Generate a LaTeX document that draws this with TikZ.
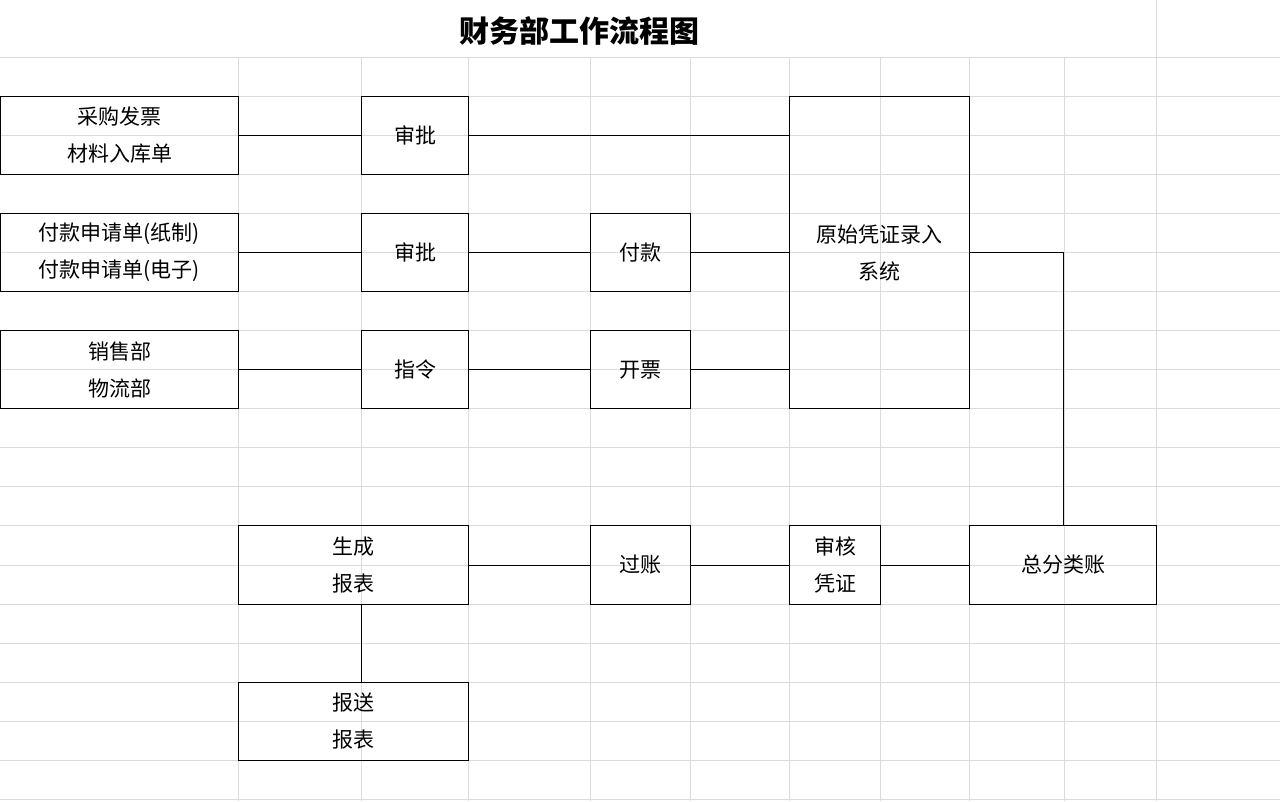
\documentclass[tikz,border=0pt]{standalone}
\usepackage{fontspec}
\setmainfont{Noto Sans CJK SC}
\begin{document}
\begin{tikzpicture}[x=1pt,y=-1pt]
\tikzstyle{box}=[draw, line width=1pt, anchor=north west, inner sep=0pt,
                 align=center, font=\fontsize{21}{37}\selectfont]
\tikzstyle{grd}=[draw=black!14, line width=0.8pt]
\useasboundingbox (0,0) rectangle (1280,801);
% grid
\foreach \x in {238,361,468,590,690,789,880,969,1064,1156}{\draw[grd] (\x,57) -- (\x,801);}
\draw[grd] (1156,0) -- (1156,57);
\foreach \y in {57,96,135,174,213,252,291,330,369,408,447,486,525,565,604,643,682,721,760,799}{\draw[grd] (0,\y) -- (1280,\y);}
\node[font=\fontsize{30}{34}\selectfont\bfseries] (ttl) at (579,31) {财务部工作流程图};
% boxes
\node[box, minimum width=238pt, minimum height=78pt] (src1) at (0,96) {采购发票\\材料入库单};
\node[box, minimum width=238pt, minimum height=78pt] (src2) at (0,213) {付款申请单(纸制)\\付款申请单(电子)};
\node[box, minimum width=238pt, minimum height=78pt] (src3) at (0,330) {销售部\\物流部};
\node[box, minimum width=107pt, minimum height=78pt] (apv1) at (361,96) {审批};
\node[box, minimum width=107pt, minimum height=78pt] (apv2) at (361,213) {审批};
\node[box, minimum width=107pt, minimum height=78pt] (ord) at (361,330) {指令};
\node[box, minimum width=100pt, minimum height=78pt] (pay) at (590,213) {付款};
\node[box, minimum width=100pt, minimum height=78pt] (inv) at (590,330) {开票};
\node[box, minimum width=180pt, minimum height=312pt] (sys) at (789,96) {原始凭证录入\\系统};
\node[box, minimum width=187pt, minimum height=79pt] (ldg) at (969,525) {总分类账};
\node[box, minimum width=91pt, minimum height=79pt] (chk) at (789,525) {审核\\凭证};
\node[box, minimum width=100pt, minimum height=79pt] (post) at (590,525) {过账};
\node[box, minimum width=230pt, minimum height=79pt] (gen) at (238,525) {生成\\报表};
\node[box, minimum width=230pt, minimum height=78pt] (send) at (238,682) {报送\\报表};
% connectors
\draw[line width=1pt] (src1) -- (apv1);
\draw[line width=1pt] (apv1) -- (apv1 -| sys.west);
\foreach \i/\j in {src2/apv2,apv2/pay,pay/sys,src3/ord,ord/inv}{\draw[line width=1pt] (\i) -- (\j);}
\draw[line width=1pt] (inv) -- (inv -| sys.west);
\draw[line width=1pt] (sys.east) -| (ldg.north);
\foreach \i/\j in {ldg/chk,chk/post,post/gen}{\draw[line width=1pt] (\i) -- (\j);}
\draw[line width=1pt] (gen.south -| apv1.west) -- (send.north -| apv1.west);
\end{tikzpicture}
\end{document}
